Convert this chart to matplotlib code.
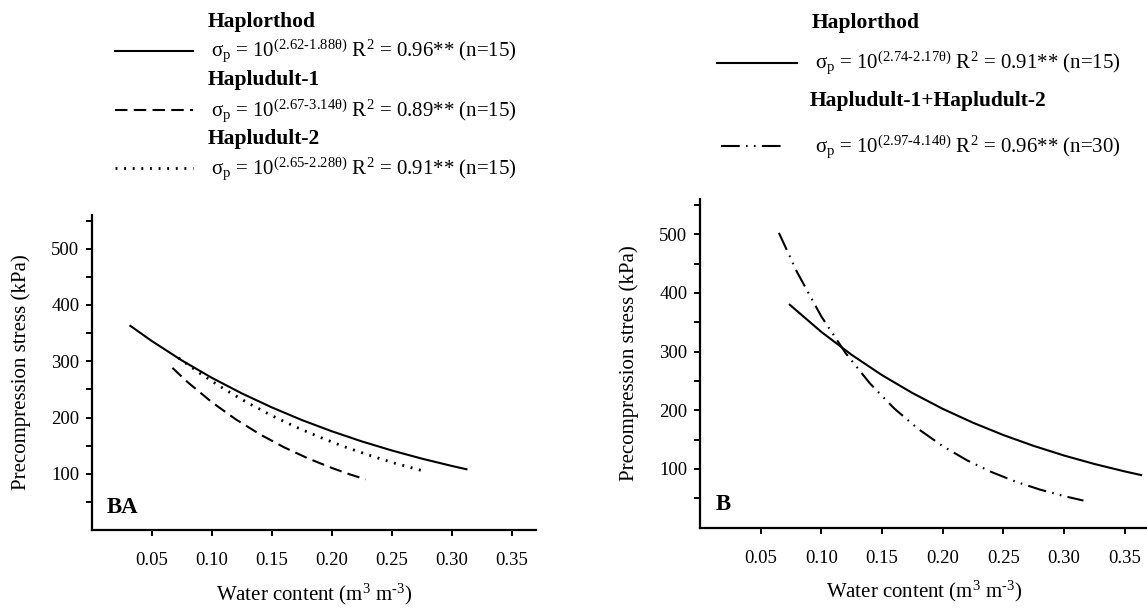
import matplotlib
matplotlib.use("Agg")
import matplotlib.pyplot as plt
from matplotlib.lines import Line2D

plt.rcParams['font.family'] = ['Liberation Serif', 'DejaVu Serif']
plt.rcParams['mathtext.fontset'] = 'custom'
plt.rcParams['mathtext.rm'] = 'Liberation Serif'
plt.rcParams['mathtext.it'] = 'Liberation Serif:italic'
plt.rcParams['mathtext.bf'] = 'Liberation Serif:bold'
plt.rcParams['mathtext.default'] = 'regular'

# ---------------- data ----------------
# Panel BA
ba_haplorthod_theta = [0.032, 0.05, 0.075, 0.10, 0.125, 0.15, 0.175, 0.20, 0.225, 0.25, 0.275, 0.30, 0.312]
ba_haplorthod_sigma = [362.9, 335.7, 301.3, 270.4, 242.7, 217.8, 195.4, 175.4, 157.4, 141.3, 126.8, 113.8, 108.0]

ba_hapludult1_theta = [0.067, 0.08, 0.10, 0.12, 0.14, 0.16, 0.18, 0.20, 0.215, 0.228]
ba_hapludult1_sigma = [288.2, 262.3, 227.0, 196.5, 170.0, 147.1, 127.3, 110.2, 98.8, 90.0]

ba_hapludult2_theta = [0.072, 0.09, 0.11, 0.13, 0.15, 0.17, 0.19, 0.21, 0.23, 0.25, 0.278]
ba_hapludult2_sigma = [306.0, 278.5, 250.7, 225.8, 203.2, 183.0, 164.8, 148.3, 133.6, 120.2, 103.8]

# Panel B
b_haplorthod_theta = [0.074, 0.10, 0.125, 0.15, 0.175, 0.20, 0.225, 0.25, 0.275, 0.30, 0.325, 0.35, 0.3635]
b_haplorthod_sigma = [379.7, 333.4, 294.3, 259.7, 229.3, 202.3, 178.6, 157.6, 139.1, 122.7, 108.3, 95.6, 89.4]

b_hapludult12_theta = [0.065, 0.08, 0.10, 0.12, 0.14, 0.16, 0.18, 0.20, 0.22, 0.24, 0.26, 0.28, 0.30, 0.316]
b_hapludult12_sigma = [502.3, 435.3, 359.7, 297.3, 245.7, 203.0, 167.8, 138.7, 114.6, 94.7, 78.3, 64.7, 53.5, 45.9]

x_ticks = [0.05, 0.10, 0.15, 0.20, 0.25, 0.30, 0.35]
x_ticklabels = ["0.05", "0.10", "0.15", "0.20", "0.25", "0.30", "0.35"]
y_ticks = [100, 200, 300, 400, 500]
y_minor = [50, 150, 250, 350, 450, 550]

left_titles = ["Haplorthod", "Hapludult-1", "Hapludult-2"]
left_eqs = [r"σ$_{p}$ = 10$^{(2.62\text{-}1.88θ)}$ R$^{2}$ = 0.96** (n=15)",
            r"σ$_{p}$ = 10$^{(2.67\text{-}3.14θ)}$ R$^{2}$ = 0.89** (n=15)",
            r"σ$_{p}$ = 10$^{(2.65\text{-}2.28θ)}$ R$^{2}$ = 0.91** (n=15)"]
right_titles = ["Haplorthod", "Hapludult-1+Hapludult-2"]
right_eqs = [r"σ$_{p}$ = 10$^{(2.74\text{-}2.17θ)}$ R$^{2}$ = 0.91** (n=15)",
             r"σ$_{p}$ = 10$^{(2.97\text{-}4.14θ)}$ R$^{2}$ = 0.96** (n=30)"]

W, H = 1147, 609
fig = plt.figure(figsize=(W / 100, H / 100), dpi=100)

def px(x, y):
    return x / W, 1 - y / H

ax1 = fig.add_axes([92 / W, (H - 530) / H, 444 / W, 315 / H])
ax2 = fig.add_axes([700 / W, (H - 527.5) / H, 449 / W, 328.5 / H])

LW = 1.5
styles_left = [dict(linestyle='-', lw=LW),
               dict(linestyle=(0, (6, 3)), lw=LW),
               dict(linestyle=(0, (0.7, 2.4)), lw=2.0)]
styles_right = [dict(linestyle='-', lw=LW),
                dict(linestyle=(0, (9, 3, 0.8, 3, 0.8, 3)), lw=LW)]

ax1.plot(ba_haplorthod_theta, ba_haplorthod_sigma, color='black', **styles_left[0])
ax1.plot(ba_hapludult1_theta, ba_hapludult1_sigma, color='black', **styles_left[1])
ax1.plot(ba_hapludult2_theta, ba_hapludult2_sigma, color='black', **styles_left[2])

ax2.plot(b_haplorthod_theta, b_haplorthod_sigma, color='black', **styles_right[0])
ax2.plot(b_hapludult12_theta, b_hapludult12_sigma, color='black', **styles_right[1])

for ax, lbl in [(ax1, "BA"), (ax2, "B")]:
    ax.set_xlim(0, 0.37)
    ax.set_ylim(0, 560)
    ax.set_xticks(x_ticks)
    ax.set_xticklabels(x_ticklabels)
    ax.set_yticks(y_ticks)
    ax.set_yticks(y_minor, minor=True)
    for s in ['top', 'right']:
        ax.spines[s].set_visible(False)
    for s in ['left', 'bottom']:
        ax.spines[s].set_linewidth(1.6)
    ax.tick_params(which='both', direction='out', length=4, width=1.4, labelsize=13.5, pad=5)
    ax.tick_params(axis='x', pad=12)
    ax.set_xlabel("Water content (m$^{3}$ m$^{\\text{-}3}$)", fontsize=15, labelpad=9)
    ax.set_ylabel("Precompression stress (kPa)", fontsize=15, labelpad=15)
    ax.text(0.012 if lbl == "BA" else 0.013, 40, lbl, fontsize=16.5, fontweight='bold',
            va='center', ha='left')

# ---------------- legends ----------------
def sample(x0, x1, y, style):
    fx0, fy = px(x0, y)
    fx1, _ = px(x1, y)
    fig.add_artist(Line2D([fx0, fx1], [fy, fy], color='black', **style))

left_title_y = [22, 80, 139]
left_eq_y = [51, 110, 168]
for i in range(3):
    fig.text(*px(208, left_title_y[i]), left_titles[i], fontsize=15.5, fontweight='bold', va='center', ha='left')
    sample(115, 193, left_eq_y[i], styles_left[i])
    fig.text(*px(211, left_eq_y[i]), left_eqs[i], fontsize=15, va='center', ha='left')

right_title_y = [23, 101]
right_eq_y = [63, 146]
right_title_cx = [866, 928]
right_sample_x = [(717, 797), (721, 783)]
for i in range(2):
    fig.text(*px(right_title_cx[i], right_title_y[i]), right_titles[i], fontsize=15.5, fontweight='bold', va='center', ha='center')
    sample(right_sample_x[i][0], right_sample_x[i][1], right_eq_y[i], styles_right[i])
    fig.text(*px(815, right_eq_y[i]), right_eqs[i], fontsize=15, va='center', ha='left')

fig.savefig("out.png", dpi=100)
